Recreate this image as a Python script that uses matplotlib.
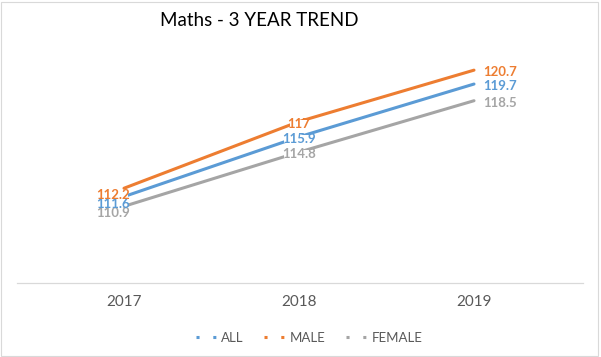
import matplotlib
matplotlib.use("Agg")
import matplotlib.pyplot as plt
from matplotlib.lines import Line2D
from matplotlib.patches import Rectangle
from matplotlib.transforms import ScaledTranslation, offset_copy

years = ["2017", "2018", "2019"]
series_names = ["ALL", "MALE", "FEMALE"]
all_vals = [111.6, 115.9, 119.7]
male_vals = [112.2, 117, 120.7]
female_vals = [110.9, 114.8, 118.5]
colors = ["#5B9BD5", "#ED7D31", "#A5A5A5"]

plt.rcParams["font.family"] = ["Lato", "DejaVu Sans"]

fig = plt.figure(figsize=(6.01, 3.57), dpi=100)
ax = fig.add_axes([17 / 601, 1 - 283 / 357, 566 / 601, 243 / 357])

x = list(range(len(years)))
data = [all_vals, male_vals, female_vals]
for name, vals, c in zip(series_names, data, colors):
    ax.plot(x, vals, color=c, lw=2.2, solid_capstyle="round", zorder=2)

# data labels (pixel offsets, as in reference)
lab_off = [(-11, -6), (0, -1), (26, -1)]
order = [2, 0, 1]
for i in order:
    vals, c = data[i], colors[i]
    for j, v in enumerate(vals):
        dx, dy = lab_off[j]
        tr = offset_copy(ax.transData, fig=fig, x=dx * 0.72, y=dy * 0.72, units="points")
        ax.text(j, v, f"{v:g}", transform=tr, ha="center", va="center_baseline",
                fontsize=9.5, fontweight="bold", color=c, zorder=3,
                bbox=dict(facecolor="white", edgecolor="none", pad=-1.6))

ax.set_xlim(-(124 - 17) / 175, 2 + (583 - 474) / 175)
ax.set_ylim(105.38, 122.87)
ax.set_xticks(x)
ax.set_xticklabels(years, fontsize=11, color="#595959")
tick_shift = [-13, 1, 14]
for lbl, s in zip(ax.get_xticklabels(), tick_shift):
    lbl.set_transform(lbl.get_transform() + ScaledTranslation(s / 100, 0, fig.dpi_scale_trans))
ax.tick_params(axis="x", length=0, pad=9)
ax.set_yticks([])
for sp in ["top", "left", "right"]:
    ax.spines[sp].set_visible(False)
ax.spines["bottom"].set_color("#D9D9D9")
ax.spines["bottom"].set_linewidth(0.9)
ax.patch.set_visible(False)

fig.text(259 / 601, 1 - 20 / 357, "Maths - 3 YEAR TREND", ha="center", va="center",
         fontsize=13.5, color="#000000")

handles = [Line2D([0], [0], color=c, lw=2.2, dashes=(1, 4.5)) for c in colors]
leg = fig.legend(handles, series_names, loc="center", bbox_to_anchor=(309 / 601, 1 - 338 / 357),
                 ncol=3, frameon=False, fontsize=9.5, handlelength=1.6, handletextpad=0.3,
                 columnspacing=1.6, labelcolor="#595959")

fig.patches.append(Rectangle((1 / 601, 1 / 357), 597 / 601, 354 / 357, transform=fig.transFigure,
                             fill=False, edgecolor="#D9D9D9", lw=0.8))

fig.savefig("out.png", dpi=100, facecolor="white")
